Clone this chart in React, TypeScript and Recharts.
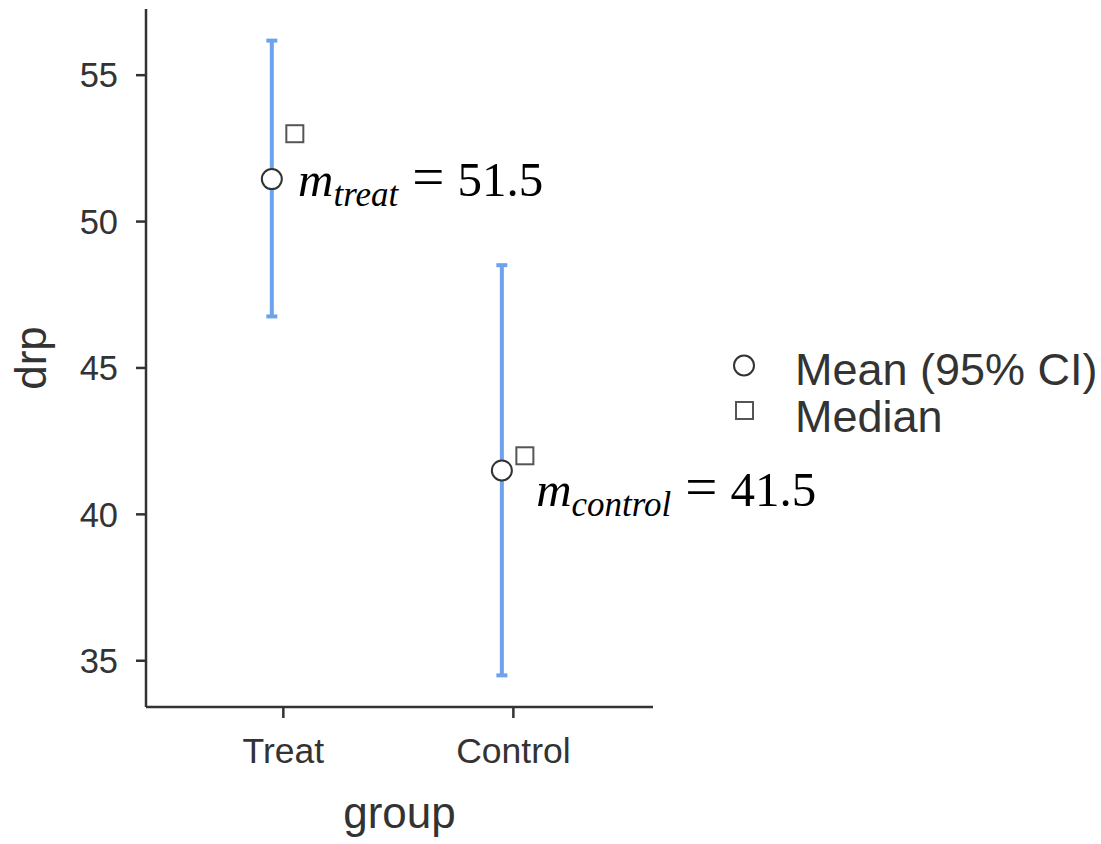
import React from 'react';
import { ScatterChart, Scatter, XAxis, YAxis, ErrorBar, Label } from 'recharts';

// ---- data ----
const groups = ['Treat', 'Control'];
const means = [51.45, 41.5];
const ciLower = [46.76, 34.5];
const ciUpper = [56.18, 48.51];
const medians = [53.0, 42.0];
const annotationSub = ['treat', 'control'];
const annotationValue = ['51.5', '41.5'];
const annotationX = [1.064, 2.099];
const annotationY = [51.45, 40.87];
const yTicks = [35, 40, 45, 50, 55];
const xTicks = [1, 2];

// ---- derived tables ----
const DODGE = 0.05;
const meanData = groups.map((g, i) => ({
  x: i + 1 - DODGE,
  y: means[i],
  err: [means[i] - ciLower[i], ciUpper[i] - means[i]],
}));
const medianData = groups.map((g, i) => ({ x: i + 1 + DODGE, y: medians[i] }));
const annData = groups.map((g, i) => ({
  x: annotationX[i],
  y: annotationY[i],
  sub: annotationSub[i],
  val: annotationValue[i],
}));

const SANS = '"Liberation Sans", Arial, Helvetica, sans-serif';
const SERIF = '"Liberation Serif", "Times New Roman", serif';
const INK = '#333333';
const BLUE = '#6CA2EE';

const MeanShape = (p: any) => (
  <circle cx={p.cx} cy={p.cy} r={10} fill="#ffffff" stroke={INK} strokeWidth={2} />
);
const MedianShape = (p: any) => (
  <rect x={p.cx - 8.5} y={p.cy - 8.5} width={17} height={17} fill="#ffffff" stroke="#555555" strokeWidth={2} />
);
const AnnShape = (p: any) => (
  <text x={p.cx} y={p.cy} dy="0.34em" fontFamily={SERIF} fontSize={49} fill="#000000">
    <tspan fontStyle="italic">m</tspan>
    <tspan fontStyle="italic" fontSize={35} dy={10}>{p.payload.sub}</tspan>
    <tspan dy={-10} dx={14} fontSize={57}>=</tspan>
    <tspan dx={13}>{p.payload.val}</tspan>
  </text>
);

const XTitle = (props: any) => {
  const vb = props.viewBox || { x: 146, y: 707, width: 507, height: 137 };
  return (
    <text x={vb.x + vb.width / 2} y={vb.y + 121} textAnchor="middle" fontFamily={SANS} fontSize={44} fill={INK}>
      group
    </text>
  );
};
const YTitle = (props: any) => {
  const vb = props.viewBox || { x: 0, y: 9, width: 146, height: 698 };
  const x = vb.x + 46;
  const y = vb.y + vb.height / 2;
  return (
    <text x={x} y={y} transform={`rotate(-90, ${x}, ${y})`} textAnchor="middle" fontFamily={SANS} fontSize={44} fill={INK}>
      drp
    </text>
  );
};

export default function App() {
  return (
    <div style={{ position: 'absolute', left: 0, top: 0, width: 1101, height: 844, background: '#ffffff' }}>
      <ScatterChart width={1101} height={844} margin={{ top: 9, right: 448, bottom: 0, left: 0 }}>
        <XAxis
          type="number"
          dataKey="x"
          domain={[0.403, 2.607]}
          ticks={xTicks}
          height={137}
          tickFormatter={(v: number) => groups[v - 1] ?? ''}
          tick={{ fill: INK, fontSize: 35.5, fontFamily: SANS }}
          tickSize={11}
          tickMargin={20}
          tickLine={{ stroke: INK, strokeWidth: 2.5 }}
          axisLine={{ stroke: INK, strokeWidth: 2.5 }}
        >
          <Label content={XTitle} />
        </XAxis>
        <YAxis
          type="number"
          dataKey="y"
          domain={[33.42, 57.26]}
          ticks={yTicks}
          width={146}
          tick={{ fill: INK, fontSize: 34.5, fontFamily: SANS }}
          tickSize={10}
          tickMargin={18}
          tickLine={{ stroke: INK, strokeWidth: 2.5 }}
          axisLine={{ stroke: INK, strokeWidth: 2.5 }}
        >
          <Label content={YTitle} />
        </YAxis>
        <Scatter data={meanData} dataKey="y" shape={MeanShape} isAnimationActive={false}>
          <ErrorBar dataKey="err" direction="y" width={5.5} stroke={BLUE} strokeWidth={4} isAnimationActive={false} />
        </Scatter>
        <Scatter data={medianData} dataKey="y" shape={MedianShape} isAnimationActive={false} />
        <Scatter data={annData} dataKey="y" shape={AnnShape} isAnimationActive={false} />
      </ScatterChart>
      <svg width={1101} height={844} style={{ position: 'absolute', left: 0, top: 0, pointerEvents: 'none' }}>
        <circle cx={744} cy={365.5} r={10} fill="#ffffff" stroke={INK} strokeWidth={2} />
        <text x={795} y={385} fontFamily={SANS} fontSize={45} fill={INK}>Mean (95% CI)</text>
        <rect x={736} y={402} width={17} height={17} fill="#ffffff" stroke="#555555" strokeWidth={2} />
        <text x={795} y={431.5} fontFamily={SANS} fontSize={45} fill={INK}>Median</text>
      </svg>
    </div>
  );
}
